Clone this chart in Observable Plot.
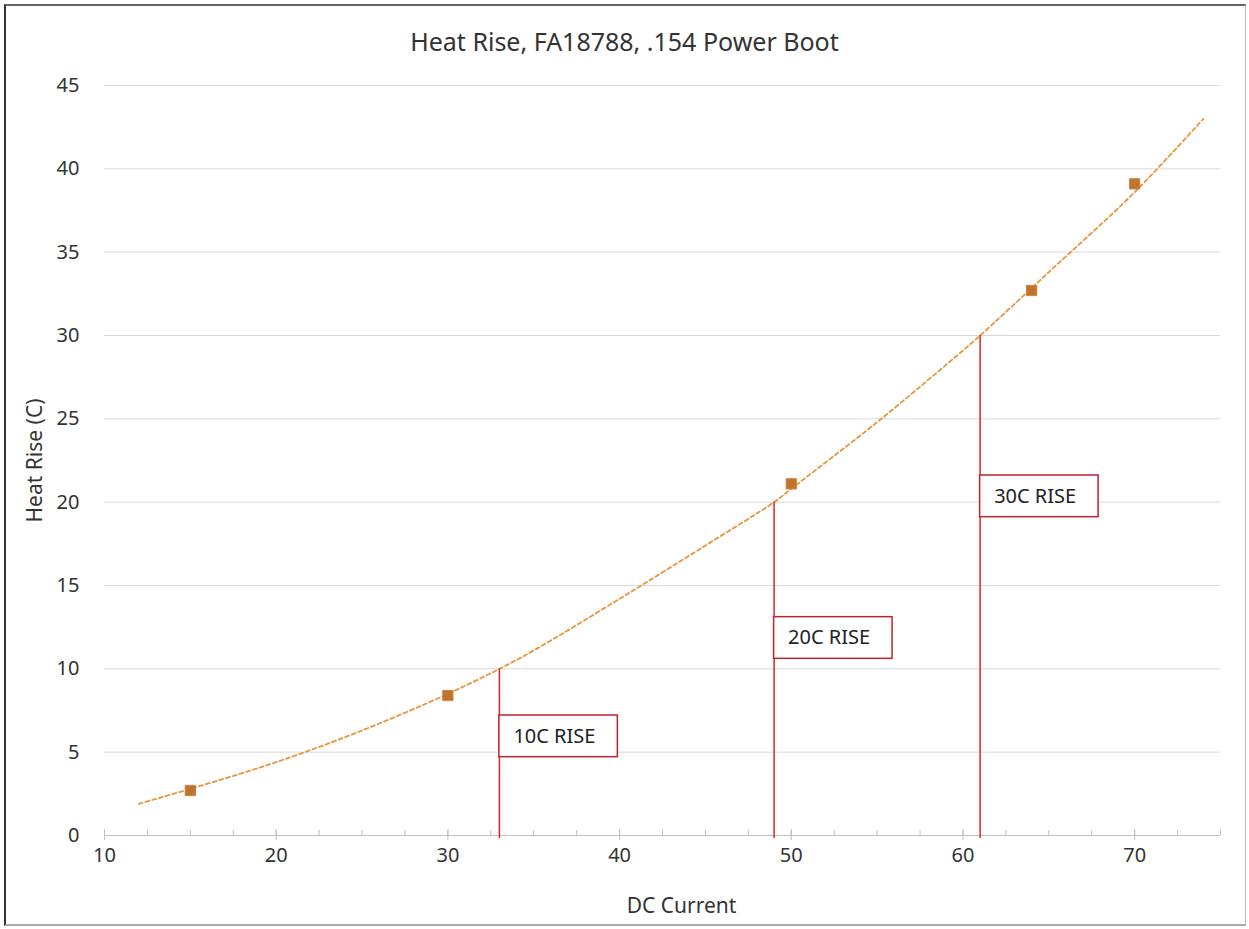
<!DOCTYPE html>
<html>
<head>
<meta charset="utf-8">
<script src="https://cdn.jsdelivr.net/npm/d3@7"></script>
<script src="https://cdn.jsdelivr.net/npm/@observablehq/plot@0.6"></script>
<style>
  body { margin: 0; background: #fff; font-family: "Noto Sans", sans-serif; }
  #wrap { position: relative; width: 1249px; height: 929px; overflow: hidden; background: #fff; }
  #frame { position: absolute; left: 4px; top: 4px; width: 1242px; height: 922px; box-sizing: border-box;
           border-left: 2px solid #333; border-top: 2px solid #666; border-bottom: 2px solid #aaa; border-right: 1px solid #bbb;
           pointer-events: none; }
  #title { height: 60px; box-sizing: border-box; padding-top: 26px; line-height: 31px; text-align: center;
           font-size: 25px; color: #333; }
  #chart svg { display: block; }
</style>
</head>
<body>
<div id="wrap">
  <div id="title">Heat Rise, FA18788, .154 Power Boot</div>
  <div id="chart"></div>
  <div id="frame"></div>
</div>
<script>
// Measured data points
const currents = [15, 30, 50, 64, 70];
const heatRise = [2.7, 8.4, 21.1, 32.7, 39.1];

// Trendline
const trendX = [12, 15, 20, 25, 30, 33, 35, 40, 45, 49, 50, 55, 60, 61, 65, 70, 74];
const trendY = [1.9, 2.8, 4.4, 6.3, 8.5, 10, 11.1, 14.2, 17.4, 20, 20.8, 24.8, 29.1, 30, 33.8, 38.6, 43];

// Rise annotations
const riseLevels = [10, 20, 30];
const riseCurrents = [33, 49, 61];
const riseLabels = ["10C RISE", "20C RISE", "30C RISE"];
const boxTop = [7.2, 13.1, 21.6];
const boxBottom = [4.7, 10.6, 19.1];

// Ticks
const xTicks = [10, 20, 30, 40, 50, 60, 70];
const xMinorTicks = d3.range(10, 75.01, 2.5);
const yTicks = [0, 5, 10, 15, 20, 25, 30, 35, 40, 45];

const points = currents.map((x, i) => ({x, y: heatRise[i]}));
const trend = trendX.map((x, i) => ({x, y: trendY[i]}));
const rises = riseLevels.map((r, i) => ({rise: r, current: riseCurrents[i], label: riseLabels[i], top: boxTop[i], bottom: boxBottom[i]}));

const chart = Plot.plot({
  width: 1249,
  height: 869,
  marginLeft: 104,
  marginRight: 29,
  marginTop: 25,
  marginBottom: 94,
  x: {domain: [10, 75]},
  y: {domain: [0, 45]},
  style: {fontFamily: "'Noto Sans', sans-serif", fontSize: "20px", color: "#333", background: "transparent"},
  marks: [
    Plot.gridY(yTicks, {stroke: "#d9d9d9", strokeOpacity: 1}),
    Plot.ruleY([0], {stroke: "#bfbfbf"}),
    Plot.ruleX(xMinorTicks, {x: d => d, y1: 0, y2: 0, insetTop: -5, stroke: "#bfbfbf"}),
    Plot.ruleX(xTicks, {x: d => d, y1: 0, y2: 0, insetTop: -6, insetBottom: -5, stroke: "#bfbfbf"}),
    Plot.axisY(yTicks, {tickSize: 0, tickPadding: 25, fontSize: 20, fill: "#333", label: null}),
    Plot.axisX(xTicks, {tickSize: 0, tickPadding: 12, fontSize: 20, fill: "#333", label: null}),
    Plot.line(trend, {x: "x", y: "y", stroke: "#e8953e", strokeWidth: 1.8, strokeDasharray: "4,3", curve: "catmull-rom"}),
    Plot.dot(points, {x: "x", y: "y", symbol: "square", r: 5.8, fill: "#c0722f", stroke: "#cf8445", strokeWidth: 1}),
    Plot.ruleX(rises, {x: "current", y1: 0, y2: "rise", stroke: "#e02424", strokeWidth: 1.5, insetTop: 3}),
    Plot.rect(rises, {x1: "current", x2: d => d.current + 6.9, y1: "bottom", y2: "top", fill: "white", stroke: "#c0232f", strokeWidth: 1.5}),
    Plot.text(rises, {x: "current", y: d => (d.top + d.bottom) / 2, text: "label", textAnchor: "start", dx: 14, fontSize: 20, fill: "#222"}),
    Plot.text(["DC Current"], {text: d => d, frameAnchor: "bottom", lineAnchor: "middle", textAnchor: "middle", dx: 19, dy: 71, fontSize: 21, fill: "#333"}),
    Plot.text(["Heat Rise (C)"], {text: d => d, frameAnchor: "left", textAnchor: "middle", lineAnchor: "middle", dx: -69, rotate: -90, fontSize: 21, fill: "#333"})
  ]
});
document.getElementById("chart").appendChild(chart);
</script>
</body>
</html>
